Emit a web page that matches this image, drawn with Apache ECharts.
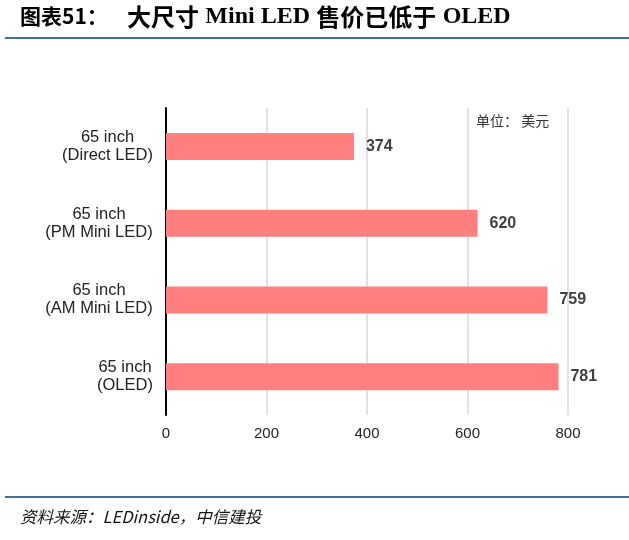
<!DOCTYPE html>
<html>
<head>
<meta charset="utf-8">
<script src="https://cdn.jsdelivr.net/npm/echarts@6/dist/echarts.min.js"></script>
<style>
html,body{margin:0;padding:0;background:#fff;}
#main{width:629px;height:540px;}
</style>
</head>
<body>
<div id="main"></div>
<script>
var categories = ['65 inch\n(Direct LED)', '65 inch\n(PM Mini LED)', '65 inch\n(AM Mini LED)', '65 inch\n(OLED)'];
var prices = [374, 620, 759, 781];
var xTicks = [0, 200, 400, 600, 800];

var labelFont = '16.5px "Liberation Sans"';
var ctx = document.createElement('canvas').getContext('2d');
ctx.font = labelFont;
// each category label: block right-aligned, lines centered inside it
var labelRich = {};
categories.forEach(function(c, i){
    var w = 0;
    c.split('\n').forEach(function(s){ w = Math.max(w, ctx.measureText(s).width); });
    labelRich['w' + i] = {width: Math.ceil(w), align: 'center', fontSize: 16.5, fontFamily: 'Liberation Sans', color: '#222', lineHeight: 18};
});

var myChart = echarts.init(document.getElementById('main'));
var option = {
    backgroundColor: '#fff',
    animation: false,
    graphic: [
        {type: 'text', left: 20, top: 6, style: {text: '图表51：', font: 'bold 21px "Noto Sans CJK SC"', fill: '#000'}},
        {type: 'text', left: 127, top: 5, style: {
            text: '{c|大尺寸} {l|Mini LED} {c|售价已低于} {l|OLED}',
            rich: {
                c: {fontSize: 24, fontWeight: 'bold', fontFamily: 'Noto Sans CJK SC', fill: '#000'},
                l: {fontSize: 24, fontWeight: 'bold', fontFamily: 'Liberation Serif', fill: '#000', padding: [0, 3, 0, 3]}
            }
        }},
        {type: 'rect', shape: {x: 5, y: 37, width: 624, height: 2}, style: {fill: '#3d7198'}},
        {type: 'text', left: 476, top: 114, style: {text: '单位： 美元', font: '14px "Noto Sans CJK SC"', fill: '#333'}},
        {type: 'rect', shape: {x: 5, y: 496, width: 624, height: 2}, style: {fill: '#3d7198'}},
        {type: 'text', left: 20, top: 508, style: {text: '资料来源：LEDinside，中信建投', font: 'italic 16.5px "Noto Sans CJK SC"', fill: '#111'}}
    ],
    grid: {left: 166, right: 61, top: 108, bottom: 125, containLabel: false},
    xAxis: {
        type: 'value',
        min: xTicks[0],
        max: xTicks[xTicks.length - 1],
        interval: 200,
        axisLine: {show: false},
        axisTick: {show: false},
        axisLabel: {color: '#222', fontSize: 15, fontFamily: 'Liberation Sans', margin: 11},
        splitLine: {lineStyle: {color: '#d9d9d9', width: 1.5}}
    },
    yAxis: {
        type: 'category',
        inverse: true,
        data: categories,
        axisLine: {show: true, lineStyle: {color: '#000', width: 2}},
        axisTick: {show: false},
        axisLabel: {
            align: 'right',
            margin: 13,
            formatter: function(v, i){
                return v.split('\n').map(function(s){ return '{w' + i + '|' + s + '}'; }).join('\n');
            },
            rich: labelRich
        }
    },
    series: [{
        type: 'bar',
        data: prices,
        barWidth: 27,
        itemStyle: {color: '#ff7f7f'},
        label: {show: true, position: 'right', distance: 12, color: '#404040', fontSize: 16, fontWeight: 'bold', fontFamily: 'Liberation Sans'}
    }]
};
myChart.setOption(option);
</script>
</body>
</html>
